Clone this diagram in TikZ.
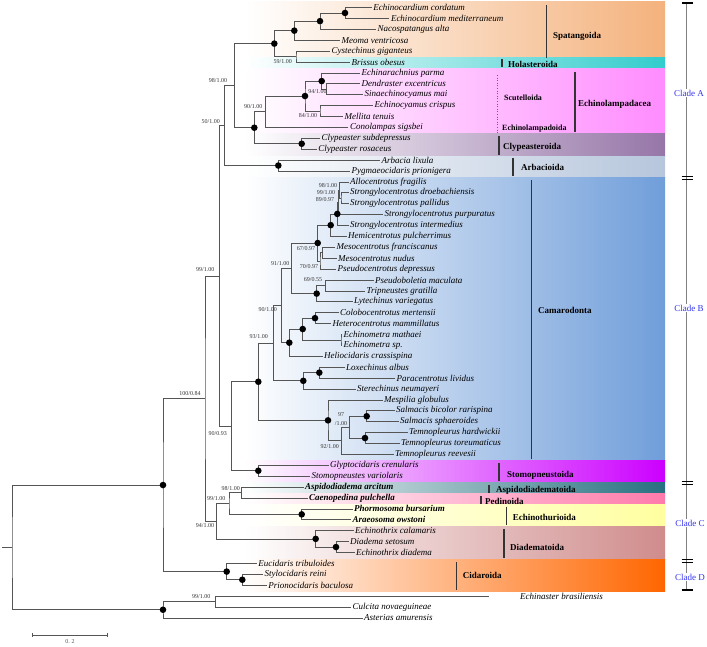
\documentclass[tikz,border=0pt]{standalone}
\usepackage{fontspec}
\setmainfont{Liberation Serif}
\usetikzlibrary{positioning}
\definecolor{TreeGray}{RGB}{85,85,85}
\definecolor{CladeBlue}{RGB}{50,50,240}
\definecolor{SpatCol}{RGB}{244,178,125}
\definecolor{HolaCol}{RGB}{51,204,204}
\definecolor{LampCol}{RGB}{255,140,255}
\definecolor{ClypCol}{RGB}{150,118,168}
\definecolor{ArbaCol}{RGB}{182,198,220}
\definecolor{CamaCol}{RGB}{112,158,218}
\definecolor{StomCol}{RGB}{204,0,255}
\definecolor{AspiCol}{RGB}{40,112,128}
\definecolor{PediCol}{RGB}{255,122,170}
\definecolor{ThurCol}{RGB}{255,255,160}
\definecolor{DiadCol}{RGB}{208,140,140}
\definecolor{CidaCol}{RGB}{255,102,0}
\tikzset{
  br/.style={draw=TreeGray,line width=0.7pt},
  leaf/.style={anchor=west,inner xsep=1.5pt,inner ysep=0pt,font=\fontsize{9}{9}\selectfont\itshape},
  bleaf/.style={leaf,font=\fontsize{9}{9}\selectfont\bfseries\itshape},
  bs/.style={inner sep=0pt,font=\fontsize{6}{6}\selectfont,text=black!80},
  band/.style={left color=white,right color=#1,draw=none},
}
\tikzset{ordbar/.style={draw=black!80,line width=1.2pt}, ordlab/.style={anchor=west,inner sep=0pt,font=\fontsize{9}{9}\selectfont\bfseries}, sublab/.style={ordlab,font=\fontsize{8}{8}\selectfont\bfseries}, cladelab/.style={fill=white,inner sep=1pt,text=CladeBlue,font=\fontsize{9}{9}\selectfont}}

\begin{document}
\begin{tikzpicture}[x=1pt,y=-1pt]
\useasboundingbox (0,0) rectangle (707,647);
% order bands
\shade[band=SpatCol] (245,1.5) rectangle (665,57.5);
\shade[band=HolaCol] (245,57.5) rectangle (665,68.5);
\shade[band=LampCol] (245,68.5) rectangle (665,134);
\shade[band=ClypCol] (245,134) rectangle (665,156.5);
\shade[band=ArbaCol] (245,156.5) rectangle (665,177.5);
\shade[band=CamaCol] (245,177.5) rectangle (665,460.5);
\shade[band=StomCol] (245,460.5) rectangle (665,482.5);
\shade[band=AspiCol] (245,482.5) rectangle (665,493.5);
\shade[band=PediCol] (245,493.5) rectangle (665,504.5);
\shade[band=ThurCol] (245,504.5) rectangle (665,526);
\shade[band=DiadCol] (245,526) rectangle (665,559.5);
\shade[band=CidaCol] (245,559.5) rectangle (665,591);
% tips
\coordinate (t1) at (371.7,7.5);
\coordinate (t2) at (389.3,18.4);
\coordinate (t3) at (376,29.3);
\coordinate (t4) at (340,40.2);
\coordinate (t5) at (330,51.1);
\coordinate (t6) at (350,62.0);
\coordinate (t7) at (360,72.9);
\coordinate (t8) at (360,83.8);
\coordinate (t9) at (363,94.7);
\coordinate (t10) at (373,105.6);
\coordinate (t11) at (343,116.5);
\coordinate (t12) at (348.3,127.4);
\coordinate (t13) at (320,138.3);
\coordinate (t14) at (316.7,149.2);
\coordinate (t15) at (380,160.1);
\coordinate (t16) at (350,171.0);
\coordinate (t17) at (348.5,181.9);
\coordinate (t18) at (348.5,192.8);
\coordinate (t19) at (348.5,203.7);
\coordinate (t20) at (383,214.6);
\coordinate (t21) at (348.5,225.5);
\coordinate (t22) at (346.5,236.4);
\coordinate (t23) at (335,247.3);
\coordinate (t24) at (336.5,258.2);
\coordinate (t25) at (336,269.1);
\coordinate (t26) at (373.5,280.0);
\coordinate (t27) at (365,290.9);
\coordinate (t28) at (352.5,301.8);
\coordinate (t29) at (338.5,312.7);
\coordinate (t30) at (331,323.6);
\coordinate (t31) at (342,334.5);
\coordinate (t32) at (342,345.4);
\coordinate (t33) at (322.5,356.3);
\coordinate (t34) at (344.5,367.2);
\coordinate (t35) at (395,378.1);
\coordinate (t36) at (355.5,389.0);
\coordinate (t37) at (382.5,399.9);
\coordinate (t38) at (394.5,410.8);
\coordinate (t39) at (398.5,421.7);
\coordinate (t40) at (407.5,432.6);
\coordinate (t41) at (399.5,443.5);
\coordinate (t42) at (393.5,454.4);
\coordinate (t43) at (328.5,465.3);
\coordinate (t44) at (310,476.2);
\coordinate (t45) at (303.5,487.1);
\coordinate (t46) at (307.5,498.0);
\coordinate (t47) at (352.5,508.9);
\coordinate (t48) at (351,519.8);
\coordinate (t49) at (353.5,530.7);
\coordinate (t50) at (348.5,541.6);
\coordinate (t51) at (354.5,552.5);
\coordinate (t52) at (256.7,563.4);
\coordinate (t53) at (263,574.3);
\coordinate (t54) at (266.7,585.2);
\coordinate (t55) at (489,596.1);
\coordinate (t56) at (351,607.0);
\coordinate (t57) at (362.5,617.9);
% taxa
\node[leaf] (l1) at (t1) {Echinocardium cordatum};
\node[leaf] (l2) at (t2) {Echinocardium mediterraneum};
\node[leaf] (l3) at (t3) {Nacospatangus alta};
\node[leaf] (l4) at (t4) {Meoma ventricosa};
\node[leaf] (l5) at (t5) {Cystechinus giganteus};
\node[leaf] (l6) at (t6) {Brissus obesus};
\node[leaf] (l7) at (t7) {Echinarachnius parma};
\node[leaf] (l8) at (t8) {Dendraster excentricus};
\node[leaf] (l9) at (t9) {Sinaechinocyamus mai};
\node[leaf] (l10) at (t10) {Echinocyamus crispus};
\node[leaf] (l11) at (t11) {Mellita tenuis};
\node[leaf] (l12) at (t12) {Conolampas sigsbei};
\node[leaf] (l13) at (t13) {Clypeaster subdepressus};
\node[leaf] (l14) at (t14) {Clypeaster rosaceus};
\node[leaf] (l15) at (t15) {Arbacia lixula};
\node[leaf] (l16) at (t16) {Pygmaeocidaris prionigera};
\node[leaf] (l17) at (t17) {Allocentrotus fragilis};
\node[leaf] (l18) at (t18) {Strongylocentrotus droebachiensis};
\node[leaf] (l19) at (t19) {Strongylocentrotus pallidus};
\node[leaf] (l20) at (t20) {Strongylocentrotus purpuratus};
\node[leaf] (l21) at (t21) {Strongylocentrotus intermedius};
\node[leaf] (l22) at (t22) {Hemicentrotus pulcherrimus};
\node[leaf] (l23) at (t23) {Mesocentrotus franciscanus};
\node[leaf] (l24) at (t24) {Mesocentrotus nudus};
\node[leaf] (l25) at (t25) {Pseudocentrotus depressus};
\node[leaf] (l26) at (t26) {Pseudoboletia maculata};
\node[leaf] (l27) at (t27) {Tripneustes gratilla};
\node[leaf] (l28) at (t28) {Lytechinus variegatus};
\node[leaf] (l29) at (t29) {Colobocentrotus mertensii};
\node[leaf] (l30) at (t30) {Heterocentrotus mammillatus};
\node[leaf] (l31) at (t31) {Echinometra mathaei};
\node[leaf] (l32) at (t32) {Echinometra sp.};
\node[leaf] (l33) at (t33) {Heliocidaris crassispina};
\node[leaf] (l34) at (t34) {Loxechinus albus};
\node[leaf] (l35) at (t35) {Paracentrotus lividus};
\node[leaf] (l36) at (t36) {Sterechinus neumayeri};
\node[leaf] (l37) at (t37) {Mespilia globulus};
\node[leaf] (l38) at (t38) {Salmacis bicolor rarispina};
\node[leaf] (l39) at (t39) {Salmacis sphaeroides};
\node[leaf] (l40) at (t40) {Temnopleurus hardwickii};
\node[leaf] (l41) at (t41) {Temnopleurus toreumaticus};
\node[leaf] (l42) at (t42) {Temnopleurus reevesii};
\node[leaf] (l43) at (t43) {Glyptocidaris crenularis};
\node[leaf] (l44) at (t44) {Stomopneustes variolaris};
\node[bleaf] (l45) at (t45) {Aspidodiadema arcitum};
\node[bleaf] (l46) at (t46) {Caenopedina pulchella};
\node[bleaf] (l47) at (t47) {Phormosoma bursarium};
\node[bleaf] (l48) at (t48) {Araeosoma owstoni};
\node[leaf] (l49) at (t49) {Echinothrix calamaris};
\node[leaf] (l50) at (t50) {Diadema setosum};
\node[leaf] (l51) at (t51) {Echinothrix diadema};
\node[leaf] (l52) at (t52) {Eucidaris tribuloides};
\node[leaf] (l53) at (t53) {Stylocidaris reini};
\node[leaf] (l54) at (t54) {Prionocidaris baculosa};
\node[leaf,right=31pt of t55,inner xsep=0pt] (l55) {Echinaster brasiliensis};
\node[leaf] (l56) at (t56) {Culcita novaeguineae};
\node[leaf] (l57) at (t57) {Asterias amurensis};
% inner nodes
\coordinate (sp1) at (345,12.95);
\coordinate (sp2) at (320,21.13);
\coordinate (sp3) at (294.3,30.66);
\coordinate (sp4) at (296,56.55);
\coordinate (sp5) at (274.3,43.6);
\coordinate (sc3) at (326.7,89.25);
\coordinate (sc2) at (321.7,81.08);
\coordinate (sc4) at (320,111.05);
\coordinate (sc1) at (305,96.06);
\coordinate (ec1) at (265.7,111.73);
\coordinate (cl1) at (301.7,143.75);
\coordinate (ir2) at (254.3,127.74);
\coordinate (ir1) at (234.3,85.67);
\coordinate (ar1) at (278.3,165.55);
\coordinate (ia) at (224.3,125.61);
\coordinate (st1) at (341,198.25);
\coordinate (st2) at (339.5,190.08);
\coordinate (st3) at (338.3,202.34);
\coordinate (st4) at (337.3,213.92);
\coordinate (st5) at (330.7,225.16);
\coordinate (me1) at (322.5,252.75);
\coordinate (me2) at (320,260.93);
\coordinate (sf) at (317.7,243.05);
\coordinate (tx1) at (325.7,285.45);
\coordinate (tx2) at (316.7,293.63);
\coordinate (j91) at (291.7,268.34);
\coordinate (em1) at (315,318.15);
\coordinate (em2) at (341,339.95);
\coordinate (em3) at (302.7,329.05);
\coordinate (em4) at (289.3,342.68);
\coordinate (i90) at (281.7,305.51);
\coordinate (pa1) at (319.3,372.65);
\coordinate (pa2) at (303.3,380.83);
\coordinate (h93) at (273.3,343.17);
\coordinate (tm1) at (366.7,416.25);
\coordinate (tm2) at (365,438.05);
\coordinate (tm3) at (349.3,427.15);
\coordinate (tm4) at (341.7,440.78);
\coordinate (tm5) at (328,420.34);
\coordinate (cam) at (258.3,381.76);
\coordinate (sto) at (258.3,470.75);
\coordinate (ech) at (231.7,426.26);
\coordinate (car) at (219.3,275.94);
\coordinate (ap) at (241.7,492.55);
\coordinate (eth) at (301.7,514.35);
\coordinate (a99) at (229,503.45);
\coordinate (dd1) at (336,547.05);
\coordinate (dd) at (315.7,538.88);
\coordinate (a94) at (216.7,521.16);
\coordinate (eue) at (205,398.55);
\coordinate (cd1) at (242.3,579.75);
\coordinate (cd) at (226.7,571.58);
\coordinate (echd) at (163,485.06);
\coordinate (as1) at (215.7,601.55);
\coordinate (out) at (163,609.73);
\coordinate (root) at (12,547.4);
\coordinate (r0) at (2,547.4);
% branches
\draw[br] (t1) -| (sp1) |- (t2);
\draw[br] (sp1) -| (sp2) |- (t3);
\draw[br] (sp2) -| (sp3) |- (t4);
\draw[br] (t5) -| (sp4) |- (t6);
\draw[br] (sp3) -| (sp5) |- (sp4);
\draw[br] (t8) -| (sc3) |- (t9);
\draw[br] (t7) -| (sc2) |- (sc3);
\draw[br] (t10) -| (sc4) |- (t11);
\draw[br] (sc2) -| (sc1) |- (sc4);
\draw[br] (sc1) -| (ec1) |- (t12);
\draw[br] (t13) -| (cl1) |- (t14);
\draw[br] (ec1) -| (ir2) |- (cl1);
\draw[br] (sp5) -| (ir1) |- (ir2);
\draw[br] (t15) -| (ar1) |- (t16);
\draw[br] (ir1) -| (ia) |- (ar1);
\draw[br] (t18) -| (st1) |- (t19);
\draw[br] (t17) -| (st2) |- (st1);
\draw[br] (st2) -| (st3) |- (t20);
\draw[br] (st3) -| (st4) |- (t21);
\draw[br] (st4) -| (st5) |- (t22);
\draw[br] (t23) -| (me1) |- (t24);
\draw[br] (me1) -| (me2) |- (t25);
\draw[br] (st5) -| (sf) |- (me2);
\draw[br] (t26) -| (tx1) |- (t27);
\draw[br] (tx1) -| (tx2) |- (t28);
\draw[br] (sf) -| (j91) |- (tx2);
\draw[br] (t29) -| (em1) |- (t30);
\draw[br] (t31) -| (em2) |- (t32);
\draw[br] (em1) -| (em3) |- (em2);
\draw[br] (em3) -| (em4) |- (t33);
\draw[br] (j91) -| (i90) |- (em4);
\draw[br] (t34) -| (pa1) |- (t35);
\draw[br] (pa1) -| (pa2) |- (t36);
\draw[br] (i90) -| (h93) |- (pa2);
\draw[br] (t38) -| (tm1) |- (t39);
\draw[br] (t40) -| (tm2) |- (t41);
\draw[br] (tm1) -| (tm3) |- (tm2);
\draw[br] (tm3) -| (tm4) |- (t42);
\draw[br] (t37) -| (tm5) |- (tm4);
\draw[br] (h93) -| (cam) |- (tm5);
\draw[br] (t43) -| (sto) |- (t44);
\draw[br] (cam) -| (ech) |- (sto);
\draw[br] (ia) -| (car) |- (ech);
\draw[br] (t45) -| (ap) |- (t46);
\draw[br] (t47) -| (eth) |- (t48);
\draw[br] (ap) -| (a99) |- (eth);
\draw[br] (t50) -| (dd1) |- (t51);
\draw[br] (t49) -| (dd) |- (dd1);
\draw[br] (a99) -| (a94) |- (dd);
\draw[br] (car) -| (eue) |- (a94);
\draw[br] (t53) -| (cd1) |- (t54);
\draw[br] (t52) -| (cd) |- (cd1);
\draw[br] (eue) -| (echd) |- (cd);
\draw[br] (t55) -| (as1) |- (t56);
\draw[br] (as1) -| (out) |- (t57);
\draw[br] (echd) -| (root) |- (out);
\draw[br] (r0) -- (root);
% full support
\fill (sp1) circle (3.3pt) (sp2) circle (3.3pt) (sp3) circle (3.3pt) (sp5) circle (3.3pt)
  (sc2) circle (3.3pt) (sc1) circle (3.3pt) (ir2) circle (3.3pt) (cl1) circle (3.3pt) (ar1) circle (3.3pt)
  (st4) circle (3.3pt) (st5) circle (3.3pt) (sf) circle (3.3pt) (tx2) circle (3.3pt)
  (em1) circle (3.3pt) (em3) circle (3.3pt) (em4) circle (3.3pt) (pa1) circle (3.3pt) (pa2) circle (3.3pt)
  (tm1) circle (3.3pt) (tm2) circle (3.3pt) (tm5) circle (3.3pt) (cam) circle (3.3pt) (sto) circle (3.3pt)
  (eth) circle (3.3pt) (dd1) circle (3.3pt) (dd) circle (3.3pt) (cd1) circle (3.3pt) (cd) circle (3.3pt)
  (echd) circle (3.3pt) (out) circle (3.3pt);
% support values
\node[bs] (b1) at (282.7,61.7) {59/1.00};
\node[bs] (b2) at (218,81) {98/1.00};
\node[bs] (b3) at (253.3,106.7) {90/1.00};
\node[bs] (b4) at (317.5,91.7) {94/1.00};
\node[bs] (b5) at (308,116) {84/1.00};
\node[bs] (b6) at (210.7,121.7) {50/1.00};
\node[bs] (b7) at (328,185.7) {98/1.00};
\node[bs] (b8) at (326,192.7) {99/1.00};
\node[bs] (b9) at (325,199.3) {89/0.97};
\node[bs] (b10) at (205.3,270) {99/1.00};
\node[bs] (b11) at (306,249) {67/0.97};
\node[bs] (b12) at (280.3,263.3) {91/1.00};
\node[bs] (b13) at (309,266.7) {70/0.97};
\node[bs] (b14) at (313,280) {69/0.55};
\node[bs] (b15) at (267.8,310) {90/1.00};
\node[bs] (b16) at (258.7,336.7) {93/1.00};
\node[bs] (b17) at (190,393.3) {100/0.84};
\node[bs] (b18) at (217.8,433.3) {90/0.93};
\node[bs,align=center,font=\fontsize{6}{8.3}\selectfont] (b19) at (341,419) {97\\/1.00};
\node[bs] (b20) at (329.7,446.7) {92/1.00};
\node[bs] (b21) at (230.7,488.3) {98/1.00};
\node[bs] (b22) at (216.2,498.3) {99/1.00};
\node[bs] (b23) at (205,526) {94/1.00};
\node[bs] (b24) at (201.2,597) {99/1.00};
% orders
\draw[ordbar] (546.7,5) -- (546.7,58);
\node[ordlab] (o1) at (553,36) {Spatangoida};
\draw[ordbar] (502,59.5) -- (502,67);
\node[ordlab] (o2) at (508,64) {Holasteroida};
\draw[dotted,black!60,line width=0.6pt] (497.7,75) -- (497.7,133);
\node[sublab] (o3) at (504,98) {Scutelloida};
\node[sublab] (o4) at (502,129) {Echinolampadoida};
\draw[ordbar] (575,72) -- (575,132);
\node[ordlab] (o5) at (578,104) {Echinolampadacea};
\draw[ordbar] (499,136) -- (499,155);
\node[ordlab] (o6) at (503,147) {Clypeasteroida};
\draw[ordbar] (513,158) -- (513,176.5);
\node[ordlab] (o7) at (521,167) {Arbacioida};
\draw[ordbar] (531.7,180) -- (531.7,459);
\node[ordlab] (o8) at (538,310) {Camarodonta};
\draw[ordbar] (499,463) -- (499,481);
\node[ordlab] (o9) at (507,475) {Stomopneustoida};
\draw[ordbar] (489,485) -- (489,492.5);
\node[ordlab] (o10) at (496,490) {Aspidodiadematoida};
\draw[ordbar] (481,496) -- (481,503.5);
\node[ordlab] (o11) at (485,501) {Pedinoida};
\draw[ordbar] (506.7,506.5) -- (506.7,525);
\node[ordlab] (o12) at (512.7,517) {Echinothurioida};
\draw[ordbar] (504,529) -- (504,558);
\node[ordlab] (o13) at (510,547) {Diadematoida};
\draw[ordbar] (456.7,562) -- (456.7,590);
\node[ordlab] (o14) at (462.7,575) {Cidaroida};
% clades
\draw[gray,line width=0.8pt] (686.7,3) -- (686.7,590);
\draw[line width=2pt] (681.7,3) -- (693.3,3);
\draw[line width=1.2pt] (681.7,176.6) -- (693.3,176.6) (681.7,179.8) -- (693.3,179.8);
\draw[line width=1.2pt] (681.7,481.6) -- (693.3,481.6) (681.7,484.8) -- (693.3,484.8);
\draw[line width=1.2pt] (681.7,559.2) -- (693.3,559.2) (681.7,562.4) -- (693.3,562.4);
\draw[line width=2pt] (681.7,590) -- (693.3,590);
\node[cladelab] (cA) at (689,93) {Clade A};
\node[cladelab] (cB) at (689,308) {Clade B};
\node[cladelab] (cC) at (690,523) {Clade C};
\node[cladelab] (cD) at (690,577) {Clade D};
% scale
\coordinate (s1) at (32,635);
\coordinate (s2) at (107,635);
\draw[TreeGray,line width=0.7pt] (s1) -- (s2);
\draw[TreeGray,line width=0.7pt] (32,633) -- (32,637) (107,633) -- (107,637);
\node[bs,text=TreeGray] (sc) at (70,642) {0. 2};
\end{tikzpicture}
\end{document}
